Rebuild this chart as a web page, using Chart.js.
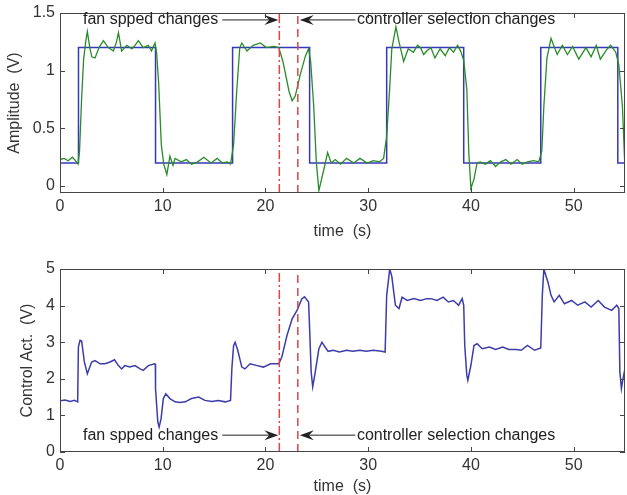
<!DOCTYPE html>
<html>
<head>
<meta charset="utf-8">
<script src="https://cdn.jsdelivr.net/npm/chart.js@4.4.0/dist/chart.umd.min.js"></script>
<style>
  html, body { margin: 0; padding: 0; background: #fff; }
  #wrap { position: relative; width: 627px; height: 495px; }
  canvas { position: absolute; left: 0; }
  #ampChart { top: 0; }
  #ctrlChart { top: 247px; }
</style>
</head>
<body>
<div id="wrap">
  <canvas id="ampChart" width="627" height="247"></canvas>
  <canvas id="ctrlChart" width="627" height="248"></canvas>
</div>
<script>
// reference square wave (step times and new level)
const refTime = [0, 1.8, 9.3, 16.8, 24.3, 31.8, 39.3, 46.8, 54.3, 55];
const refAmp = [0.2, 1.2, 0.2, 1.2, 0.2, 1.2, 0.2, 1.2, 0.2, 0.2];

// measured output (green)
const outTime = [0, 0.4, 0.8, 1.2, 1.5, 1.75, 1.9, 2.1, 2.3, 2.5, 2.66, 2.9, 3.1, 3.41, 3.8, 4.22, 4.7, 5.2, 5.5, 5.69,
  6.0, 6.5, 7.0, 7.3, 7.63, 8.1, 8.6, 8.9, 9.25, 9.4, 9.6, 9.86, 10.1, 10.4, 10.7, 11.0, 11.2, 11.8, 12.3, 12.8,
  13.4, 14.0, 14.7, 15.3, 15.8, 16.3, 16.6, 16.9, 17.2, 17.5, 17.7, 18.2, 18.8, 19.5, 20.1, 20.8, 21.3, 21.7, 22.3, 22.6,
  22.9, 23.4, 23.9, 24.2, 24.4, 24.7, 24.95, 25.2, 25.7, 26.05, 26.4, 26.8, 27.3, 27.9, 28.6, 29.2, 29.9, 30.5, 31.1, 31.5,
  31.8, 32.1, 32.3, 32.7, 33.0, 33.45, 33.9, 34.4, 34.8, 35.1, 35.4, 35.7, 36.1, 36.5, 37.0, 37.5, 37.9, 38.3, 38.7, 39.0,
  39.3, 39.6, 39.8, 40.0, 40.3, 40.6, 40.9, 41.4, 41.9, 42.4, 42.9, 43.4, 43.9, 44.5, 45.0, 45.5, 46.1, 46.6, 46.9, 47.1,
  47.4, 47.8, 48.1, 48.4, 48.9, 49.4, 49.9, 50.5, 51.2, 51.7, 52.2, 52.6, 53.2, 53.6, 54.1, 54.4, 54.75, 55.0];
const outAmp = [0.23, 0.24, 0.22, 0.25, 0.22, 0.19, 0.3, 0.75, 1.1, 1.25, 1.34, 1.2, 1.12, 1.11, 1.2, 1.26, 1.2, 1.17, 1.25, 1.33,
  1.17, 1.22, 1.19, 1.22, 1.26, 1.2, 1.22, 1.17, 1.24, 1.16, 0.9, 0.36, 0.19, 0.1, 0.26, 0.18, 0.24, 0.21, 0.23, 0.19,
  0.21, 0.25, 0.2, 0.24, 0.2, 0.21, 0.19, 0.36, 0.82, 1.2, 1.24, 1.17, 1.22, 1.24, 1.2, 1.21, 1.2, 1.08, 0.82, 0.74,
  0.78, 0.97, 1.13, 1.19, 1.08, 0.69, 0.21, -0.04, 0.15, 0.29, 0.2, 0.23, 0.19, 0.24, 0.2, 0.24, 0.2, 0.22, 0.21, 0.24,
  0.43, 0.86, 1.19, 1.38, 1.25, 1.08, 1.19, 1.16, 1.22, 1.2, 1.14, 1.17, 1.2, 1.11, 1.19, 1.13, 1.2, 1.16, 1.22, 1.17,
  1.09, 0.84, 0.28, -0.02, 0.06, 0.2, 0.21, 0.19, 0.22, 0.17, 0.21, 0.23, 0.19, 0.23, 0.19, 0.21, 0.22, 0.21, 0.3, 0.69,
  1.11, 1.28, 1.21, 1.14, 1.22, 1.14, 1.21, 1.1, 1.2, 1.12, 1.22, 1.1, 1.18, 1.22, 1.16, 1.05, 0.69, 0.14];

// control action (bottom)
const ctrlTime = [0, 0.5, 1.0, 1.4, 1.72, 1.79, 1.95, 2.11, 2.37, 2.66, 3.08, 3.41, 3.9, 4.38, 4.87, 5.3, 5.69, 6.0, 6.3, 6.8,
  7.3, 7.8, 8.1, 8.6, 9.2, 9.28, 9.3, 9.52, 9.65, 9.84, 10.06, 10.3, 10.7, 11.2, 11.7, 12.2, 12.8, 13.5, 14.1, 14.8,
  15.4, 16.1, 16.6, 16.73, 16.9, 17.05, 17.3, 17.7, 18.0, 18.5, 19.2, 19.8, 20.5, 21.3, 21.6, 22.1, 22.6, 23.07, 23.55, 23.8,
  24.2, 24.3, 24.45, 24.6, 24.8, 25.2, 25.5, 25.8, 26.1, 26.6, 27.2, 27.9, 28.5, 29.2, 29.8, 30.5, 31.3, 31.65, 31.8, 32.1,
  32.3, 32.65, 33.0, 33.3, 33.8, 34.45, 35.1, 35.7, 36.1, 36.7, 37.3, 37.8, 38.3, 38.8, 39.15, 39.3, 39.4, 39.6, 39.7, 40.0,
  40.3, 40.6, 41.1, 41.8, 42.4, 43.1, 43.7, 44.4, 44.9, 45.5, 46.2, 46.8, 46.95, 47.1, 47.5, 47.8, 48.1, 48.6, 49.1, 49.8,
  50.4, 51.1, 51.7, 52.4, 53.0, 53.7, 54.2, 54.4, 54.5, 54.65, 54.8, 55.0];
const ctrlVolt = [1.4, 1.42, 1.38, 1.41, 1.37, 2.87, 3.05, 3.03, 2.46, 2.14, 2.46, 2.5, 2.41, 2.41, 2.46, 2.52, 2.36, 2.27, 2.36, 2.32,
  2.36, 2.27, 2.23, 2.36, 2.41, 2.4, 1.73, 0.82, 0.68, 0.91, 1.46, 1.59, 1.46, 1.37, 1.35, 1.37, 1.46, 1.5, 1.41, 1.38,
  1.41, 1.37, 1.41, 2.28, 2.91, 3.0, 2.78, 2.32, 2.27, 2.41, 2.36, 2.32, 2.41, 2.41, 2.6, 3.19, 3.64, 3.87, 4.19, 4.24,
  4.1, 3.37, 2.19, 1.78, 2.1, 2.82, 3.0, 2.87, 2.75, 2.78, 2.73, 2.78, 2.75, 2.78, 2.75, 2.78, 2.75, 2.73, 4.28, 5.0,
  4.8, 4.01, 3.92, 4.23, 4.14, 4.19, 4.14, 4.19, 4.19, 4.14, 4.23, 4.1, 4.14, 4.01, 4.19, 4.01, 2.91, 2.1, 1.96, 2.37,
  2.91, 2.96, 2.82, 2.87, 2.8, 2.87, 2.8, 2.8, 2.78, 2.91, 2.78, 2.84, 4.28, 5.0, 4.64, 4.28, 4.1, 4.28, 4.05, 4.14,
  4.01, 4.1, 3.96, 4.14, 3.96, 3.87, 4.01, 3.92, 2.19, 1.73, 2.0, 2.28];

// event times
const fanChangeTime = 21.35;
const ctrlChangeTime = 23.15;

// tick labels
const timeTicks = [0, 10, 20, 30, 40, 50];
const ampTicks = [0, 0.5, 1, 1.5];
const ctrlTicks = [0, 1, 2, 3, 4, 5];

const FONT = '"Liberation Sans", Arial, sans-serif';
const TEXT_COLOR = '#333';

function pts(xs, ys) {
    return xs.map((x, i) => ({ x: x, y: ys[i] }));
}

function drawArrow(ctx, x0, x1, y) {
    const dir = Math.sign(x1 - x0);
    ctx.beginPath();
    ctx.moveTo(x0, y);
    ctx.lineTo(x1 - dir * 6, y);
    ctx.stroke();
    ctx.beginPath();
    ctx.moveTo(x1, y);
    ctx.lineTo(x1 - dir * 14, y - 5);
    ctx.lineTo(x1 - dir * 9, y);
    ctx.lineTo(x1 - dir * 14, y + 5);
    ctx.closePath();
    ctx.fill();
}

// matlab-like box, inward ticks and the two arrow notes
const matlabFrame = {
    id: 'matlabFrame',
    afterDatasetsDraw(chart, args, opts) {
        const { ctx, chartArea: a, scales } = chart;
        const xs = scales.x, ys = scales.y;
        ctx.save();
        ctx.strokeStyle = '#444';
        ctx.lineWidth = 1;
        ctx.beginPath();
        xs.ticks.forEach(t => {
            const px = Math.round(xs.getPixelForValue(t.value)) + 0.5;
            ctx.moveTo(px, a.bottom); ctx.lineTo(px, a.bottom - 5);
            ctx.moveTo(px, a.top); ctx.lineTo(px, a.top + 5);
        });
        ys.ticks.forEach(t => {
            const py = Math.round(ys.getPixelForValue(t.value)) + 0.5;
            ctx.moveTo(a.left, py); ctx.lineTo(a.left + 5, py);
            ctx.moveTo(a.right, py); ctx.lineTo(a.right - 5, py);
        });
        ctx.stroke();
        ctx.strokeRect(a.left + 0.5, a.top + 0.5, a.right - a.left - 1, a.bottom - a.top - 1);

        // notes
        const y = ys.getPixelForValue(opts.noteY);
        ctx.fillStyle = '#222';
        ctx.strokeStyle = '#222';
        ctx.font = '16px ' + FONT;
        ctx.textBaseline = 'middle';
        ctx.textAlign = 'right';
        ctx.fillText('fan spped changes', xs.getPixelForValue(15.4), y);
        drawArrow(ctx, xs.getPixelForValue(15.8), xs.getPixelForValue(fanChangeTime) - 1, y);
        ctx.textAlign = 'left';
        ctx.fillText('controller selection changes', xs.getPixelForValue(28.9), y);
        drawArrow(ctx, xs.getPixelForValue(28.75), xs.getPixelForValue(ctrlChangeTime) + 2, y);
        ctx.restore();
    }
};

function markerSets(yMin, yMax) {
    return [{
        data: pts([fanChangeTime, fanChangeTime], [yMin, yMax]),
        borderColor: 'rgb(222, 70, 70)',
        borderWidth: 1.5,
        borderDash: [9, 3, 2, 3],
        pointRadius: 0
    }, {
        data: pts([ctrlChangeTime, ctrlChangeTime], [yMin, yMax]),
        borderColor: 'rgb(222, 70, 70)',
        borderWidth: 1.5,
        borderDash: [8, 5],
        pointRadius: 0
    }];
}

function baseOptions(cfg) {
    return {
        responsive: false,
        animation: false,
        layout: { padding: { top: cfg.padTop, right: 2, left: 0, bottom: 0 } },
        plugins: {
            legend: { display: false },
            tooltip: { enabled: false },
            matlabFrame: { noteY: cfg.noteY }
        },
        scales: {
            x: {
                type: 'linear',
                min: 0,
                max: 55,
                grid: { display: false, drawTicks: false },
                border: { display: false },
                afterBuildTicks: s => { s.ticks = timeTicks.map(v => ({ value: v })); },
                afterFit: s => { s.height = cfg.xHeight; },
                ticks: {
                    padding: 6,
                    color: TEXT_COLOR,
                    font: { family: FONT, size: 16, lineHeight: 1 },
                    maxRotation: 0,
                    callback: v => String(v)
                },
                title: {
                    display: true,
                    text: 'time  (s)',
                    color: TEXT_COLOR,
                    font: { family: FONT, size: 16, lineHeight: 1 },
                    padding: { top: 0, bottom: cfg.xTitlePad }
                }
            },
            y: {
                min: cfg.yMin,
                max: cfg.yMax,
                grid: { display: false, drawTicks: false },
                border: { display: false },
                afterBuildTicks: s => { s.ticks = cfg.yTicks.map(v => ({ value: v })); },
                afterFit: s => { s.width = 60; },
                ticks: {
                    padding: 5,
                    color: TEXT_COLOR,
                    font: { family: FONT, size: 16, lineHeight: 1 },
                    callback: v => String(v)
                },
                title: {
                    display: true,
                    text: cfg.yTitle,
                    color: TEXT_COLOR,
                    font: { family: FONT, size: 16, lineHeight: 1 },
                    padding: { top: cfg.yTitlePad, bottom: 0 }
                }
            }
        }
    };
}

// Amplitude chart
new Chart(document.getElementById('ampChart'), {
    type: 'line',
    data: {
        datasets: markerSets(-0.06, 1.5).concat([{
            label: 'output',
            data: pts(outTime, outAmp),
            borderColor: 'rgb(40, 140, 40)',
            borderWidth: 1.3,
            pointRadius: 0,
            tension: 0
        }, {
            label: 'reference',
            data: pts(refTime, refAmp),
            borderColor: 'rgb(55, 55, 190)',
            borderWidth: 1.5,
            pointRadius: 0,
            stepped: 'before'
        }])
    },
    options: baseOptions({
        padTop: 10, xHeight: 54, xTitlePad: 7, yMin: -0.06, yMax: 1.5,
        yTicks: ampTicks, yTitle: 'Amplitude  (V)', yTitlePad: 7, noteY: 1.44
    }),
    plugins: [matlabFrame]
});

// Control action chart
new Chart(document.getElementById('ctrlChart'), {
    type: 'line',
    data: {
        datasets: markerSets(0, 5).concat([{
            label: 'control',
            data: pts(ctrlTime, ctrlVolt),
            borderColor: 'rgb(60, 60, 170)',
            borderWidth: 1.5,
            pointRadius: 0,
            tension: 0
        }])
    },
    options: baseOptions({
        padTop: 22, xHeight: 43, xTitlePad: 0, yMin: 0, yMax: 5,
        yTicks: ctrlTicks, yTitle: 'Control Act.  (V)', yTitlePad: 20, noteY: 0.46
    }),
    plugins: [matlabFrame]
});
</script>
</body>
</html>
